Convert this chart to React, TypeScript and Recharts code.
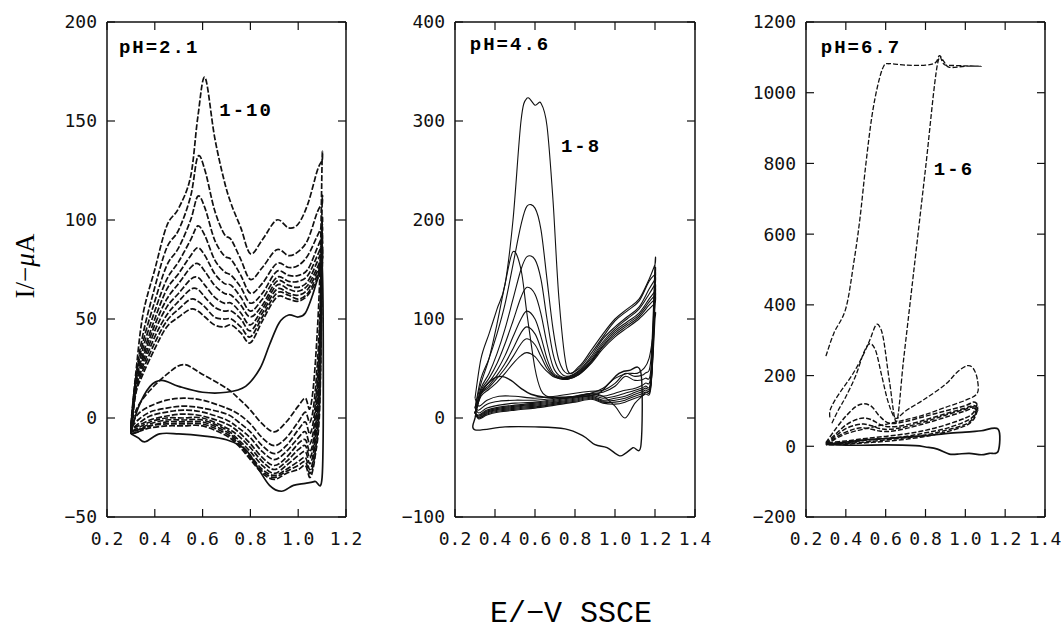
import React from "react";
import { LineChart, Line, XAxis, YAxis, ReferenceDot } from "recharts";

// ---- pH = 2.1 : forward (anodic) and return scans, cycles 1-10 ----
const p1FwdE = [0.30, 0.32, 0.35, 0.40, 0.45, 0.50, 0.55, 0.58, 0.61, 0.65, 0.69, 0.72, 0.76, 0.80, 0.85, 0.91, 0.96, 1.00, 1.04, 1.08, 1.10];
const p1RevE = [1.10, 1.09, 1.07, 1.05, 1.03, 1.00, 0.95, 0.90, 0.85, 0.80, 0.75, 0.70, 0.60, 0.52, 0.45, 0.38, 0.33, 0.30];

const p1Fwd = [
  [-3, 22, 52, 75, 97, 106, 122, 152, 172, 142, 120, 108, 96, 83, 90, 100, 96, 98, 108, 125, 130],
  [-4, 20, 42, 66, 86, 95, 112, 132, 125, 105, 93, 90, 80, 70, 76, 85, 82, 84, 90, 104, 108],
  [-5, 19, 38, 59, 77, 86, 100, 112, 106, 90, 82, 80, 72, 63, 68, 78, 76, 77, 82, 92, 97],
  [-6, 18, 35, 54, 70, 79, 90, 97, 92, 80, 74, 72, 66, 58, 63, 74, 72, 72, 75, 86, 92],
  [-6, 17, 32, 50, 65, 73, 82, 86, 82, 73, 68, 67, 61, 54, 60, 71, 69, 69, 72, 82, 88],
  [-7, 16, 30, 47, 60, 68, 76, 78, 74, 67, 63, 62, 57, 51, 57, 69, 67, 66, 69, 79, 85],
  [-7, 15, 28, 44, 56, 63, 70, 71, 67, 61, 58, 58, 53, 47, 55, 67, 65, 64, 67, 76, 82],
  [-7, 14, 26, 41, 52, 59, 65, 65, 61, 56, 54, 54, 50, 44, 53, 65, 63, 62, 65, 74, 80],
  [-8, 13, 24, 38, 49, 55, 60, 59, 56, 51, 50, 50, 46, 41, 51, 63, 62, 60, 63, 72, 78],
  [-8, 12, 22, 35, 46, 51, 55, 54, 51, 47, 46, 47, 43, 38, 49, 61, 60, 59, 62, 70, 76],
];
const p1Rev = [
  [130, 70, 25, 5, 10, 6, -2, -7, -3, 4, 10, 15, 22, 27, 22, 14, 6, -3],
  [108, 50, 12, -2, 3, -2, -10, -14, -10, -3, 2, 5, 9, 10, 9, 6, 2, -4],
  [97, 40, 5, -8, -2, -6, -14, -18, -14, -7, -2, 2, 5, 6, 5, 3, -1, -5],
  [92, 35, 0, -13, -7, -10, -17, -21, -17, -10, -5, -1, 3, 4, 3, 1, -3, -6],
  [88, 30, -5, -17, -11, -13, -20, -24, -20, -13, -7, -3, 1, 2, 1, -1, -4, -6],
  [85, 25, -8, -20, -14, -16, -22, -26, -22, -15, -9, -5, 0, 0, 0, -2, -5, -7],
  [82, 20, -12, -23, -17, -19, -24, -28, -24, -17, -11, -6, -1, -1, -1, -3, -6, -7],
  [80, 15, -15, -26, -20, -22, -26, -29, -26, -19, -12, -7, -2, -2, -2, -4, -6, -7],
  [78, 10, -18, -28, -22, -24, -27, -30, -27, -20, -13, -8, -3, -3, -3, -4, -7, -8],
  [76, 5, -20, -30, -24, -26, -28, -31, -28, -21, -14, -9, -4, -4, -4, -5, -7, -8],
];
const p1SolidE = [0.30, 0.33, 0.38, 0.43, 0.50, 0.60, 0.70, 0.78, 0.84, 0.88, 0.92, 0.96, 1.00, 1.03, 1.06, 1.08, 1.10, 1.105, 1.10, 1.07, 1.03, 0.98, 0.93, 0.88, 0.83, 0.78, 0.70, 0.60, 0.50, 0.42, 0.36, 0.33, 0.30];
const p1SolidI = [-8, 5, 16, 19, 16, 13, 13, 16, 25, 37, 48, 52, 51, 53, 62, 70, 78, 20, -30, -32, -33, -34, -37, -34, -25, -16, -11, -9, -8, -8, -12, -10, -8];

// ---- pH = 4.6 : cycles 1-8 ----
const p2FwdE = [0.30, 0.33, 0.37, 0.41, 0.45, 0.49, 0.53, 0.56, 0.60, 0.63, 0.66, 0.69, 0.72, 0.76, 0.82, 0.88, 0.94, 1.00, 1.06, 1.12, 1.17, 1.20];
const p2RevE = [1.20, 1.18, 1.15, 1.10, 1.05, 1.00, 0.94, 0.88, 0.80, 0.70, 0.60, 0.50, 0.42, 0.36, 0.32, 0.30];

const p2Fwd = [
  [20, 60, 85, 110, 135, 200, 300, 323, 316, 318, 295, 220, 120, 50, 52, 68, 85, 100, 110, 120, 140, 155],
  [10, 40, 60, 85, 115, 155, 195, 214, 212, 190, 140, 90, 58, 45, 50, 65, 82, 98, 108, 118, 138, 145],
  [10, 35, 60, 95, 135, 168, 150, 105, 50, 28, 22, 21, 20, 20, 22, 25, 30, 40, 45, 46, 60, 100],
  [5, 30, 45, 65, 90, 120, 150, 163, 160, 140, 100, 65, 48, 42, 48, 62, 80, 92, 102, 112, 130, 140],
  [5, 28, 40, 55, 75, 98, 122, 132, 125, 105, 75, 52, 43, 41, 47, 60, 77, 90, 100, 110, 125, 135],
  [5, 26, 36, 48, 63, 82, 100, 108, 100, 82, 60, 46, 42, 40, 46, 58, 75, 88, 97, 106, 120, 128],
  [5, 25, 33, 43, 55, 70, 86, 92, 85, 70, 54, 44, 41, 40, 45, 57, 73, 86, 95, 104, 117, 124],
  [5, 24, 31, 40, 50, 62, 75, 80, 74, 62, 50, 43, 40, 39, 44, 56, 72, 84, 93, 102, 114, 120],
  [5, 22, 29, 36, 45, 55, 63, 66, 62, 54, 47, 42, 40, 39, 44, 55, 70, 82, 91, 100, 110, 116],
];
const p2Rev = [
  [155, 60, 45, 42, 45, 35, 28, 27, 25, 22, 20, 22, 22, 18, 12, 20],
  [145, 50, 40, 38, 42, 32, 26, 25, 22, 20, 18, 18, 17, 14, 8, 10],
  [100, 35, 25, 15, 0, 12, 22, 25, 22, 19, 16, 15, 13, 10, 5, 10],
  [140, 45, 35, 30, 28, 25, 22, 24, 21, 18, 15, 13, 11, 8, 3, 5],
  [135, 40, 32, 28, 25, 22, 20, 23, 20, 17, 14, 12, 10, 7, 2, 5],
  [128, 38, 30, 26, 22, 20, 18, 22, 19, 16, 13, 11, 9, 6, 1, 5],
  [124, 36, 28, 24, 20, 18, 17, 21, 18, 15, 12, 10, 8, 5, 0, 5],
  [120, 34, 26, 22, 18, 16, 16, 20, 17, 14, 11, 9, 7, 4, 0, 5],
  [116, 32, 24, 20, 16, 14, 15, 19, 16, 13, 10, 8, 6, 3, -1, 5],
];
const p2FirstE = [0.30, 0.33, 0.38, 0.43, 0.48, 0.53, 0.58, 0.65, 0.75, 0.85, 0.92, 0.97, 1.02, 1.07, 1.13, 1.13, 1.09, 1.05, 1.02, 0.96, 0.90, 0.84, 0.75, 0.60, 0.45, 0.30, 0.30];
const p2FirstI = [0, 25, 38, 42, 38, 30, 24, 21, 21, 22, 25, 35, 45, 48, 45, -27, -30, -36, -38, -30, -27, -18, -11, -9, -9, -12, 0];

// ---- pH = 6.7 : cycles 1-6 ----
const p3TopE = [0.30, 0.34, 0.40, 0.44, 0.47, 0.50, 0.53, 0.56, 0.59, 0.62, 0.70, 0.80, 0.85, 0.87, 0.89, 0.92, 1.00, 1.08, 1.00, 0.90, 0.86, 0.80, 0.74, 0.69, 0.655, 0.62, 0.59, 0.57, 0.55, 0.52, 0.48, 0.43, 0.38, 0.34, 0.32, 0.32];
const p3TopI = [255, 320, 390, 520, 640, 795, 930, 1020, 1075, 1082, 1078, 1078, 1085, 1105, 1090, 1072, 1075, 1075, 1076, 1078, 1080, 785, 490, 245, 70, 180, 300, 338, 342, 300, 250, 200, 160, 125, 100, 80];
const p3SecondE = [0.33, 0.36, 0.40, 0.45, 0.49, 0.52, 0.55, 0.58, 0.61, 0.64, 0.66, 0.70, 0.80, 0.90, 0.96, 1.01, 1.04, 1.06, 1.06, 1.00, 0.90, 0.80, 0.70, 0.60, 0.50, 0.40, 0.33];
const p3SecondI = [65, 100, 140, 200, 265, 290, 270, 200, 130, 85, 80, 100, 135, 175, 210, 228, 220, 190, 150, 130, 110, 90, 75, 62, 50, 35, 15];
const p3FwdE = [0.30, 0.35, 0.40, 0.45, 0.49, 0.53, 0.57, 0.62, 0.70, 0.80, 0.90, 1.00, 1.04, 1.06];
const p3RevE = [1.06, 1.04, 1.00, 0.90, 0.80, 0.70, 0.60, 0.50, 0.40, 0.30];
const p3Fwd = [
  [10, 50, 85, 112, 120, 112, 85, 65, 70, 85, 100, 115, 125, 120],
  [8, 35, 60, 75, 80, 75, 62, 55, 60, 75, 92, 108, 115, 110],
  [6, 30, 50, 60, 63, 58, 50, 48, 55, 70, 88, 105, 112, 105],
  [4, 25, 40, 50, 52, 48, 43, 42, 50, 65, 82, 100, 108, 100],
];
const p3Rev = [
  [120, 95, 80, 60, 45, 35, 28, 22, 15, 10],
  [110, 85, 70, 50, 38, 28, 22, 17, 10, 8],
  [105, 80, 62, 45, 32, 24, 18, 12, 8, 6],
  [100, 75, 58, 40, 28, 20, 14, 10, 6, 4],
];
const p3BaseE = [0.30, 0.40, 0.50, 0.60, 0.70, 0.80, 0.90, 1.00, 1.08, 1.165, 1.165, 1.12, 1.08, 1.02, 0.96, 0.92, 0.86, 0.80, 0.75, 0.60, 0.45, 0.30];
const p3BaseI = [5, 12, 18, 22, 26, 30, 36, 40, 44, 48, -14, -20, -24, -20, -22, -22, -8, -2, 2, 4, 3, 5];

// axes
const xTicks1 = [0.2, 0.4, 0.6, 0.8, 1.0, 1.2];
const xTicks2 = [0.2, 0.4, 0.6, 0.8, 1.0, 1.2, 1.4];
const yTicks1 = [-50, 0, 50, 100, 150, 200];
const yTicks2 = [-100, 0, 100, 200, 300, 400];
const yTicks3 = [-200, 0, 200, 400, 600, 800, 1000, 1200];

const pts = (es: number[], is: number[]) => es.map((e, k) => ({ e, i: is[k] }));
const loop = (fe: number[], fi: number[], re: number[], ri: number[]) => [...pts(fe, fi), ...pts(re, ri)];

// smooth curve through the points (Catmull-Rom), works for loops where E goes back
function smooth(context: any) {
  let p: [number, number][] = [];
  return {
    areaStart() {},
    areaEnd() {},
    lineStart() { p = []; },
    point(x: number, y: number) { p.push([x, y]); },
    lineEnd() {
      if (!p.length) return;
      context.moveTo(p[0][0], p[0][1]);
      for (let k = 0; k < p.length - 1; k++) {
        const a = p[k - 1] || p[k], b = p[k], c = p[k + 1], d = p[k + 2] || c;
        context.bezierCurveTo(
          b[0] + (c[0] - a[0]) / 6, b[1] + (c[1] - a[1]) / 6,
          c[0] - (d[0] - b[0]) / 6, c[1] - (d[1] - b[1]) / 6,
          c[0], c[1],
        );
      }
    },
  };
}

const INK = "#111";
const BOX_TOP = 22;
const BOX_H = 495;
const Y_W = 70;

const NoTick = () => <g />;
const fmtY = (v: number) => (v < 0 ? `\u2212${Math.abs(v)}` : `${v}`);
const tickFont = { fontFamily: "'DejaVu Sans Mono', monospace", fontSize: 18, fill: INK };
const noteFont = { fontFamily: "'Liberation Mono', monospace", fontSize: 19, fontWeight: 700, fill: "#000", letterSpacing: 2 };
const boxLine = { stroke: INK, strokeWidth: 1.5 };
const tickLine = { stroke: INK, strokeWidth: 1.2 };

type Curve = { data: { e: number; i: number }[]; dash?: string; w?: number };
type Note = { x: number; y: number; text: string };

function Panel({ left, width, xMax, xTicks, yMin, yMax, yTicks, curves, notes }: {
  left: number; width: number; xMax: number; xTicks: number[]; yMin: number; yMax: number;
  yTicks: number[]; curves: Curve[]; notes: Note[];
}) {
  return (
    <div style={{ position: "absolute", left: left - Y_W, top: BOX_TOP - 12 }}>
      <LineChart width={Y_W + width + 16} height={12 + BOX_H + 40}
        margin={{ top: 11, right: 15, bottom: 0, left: 0 }}>
        <XAxis type="number" dataKey="e" domain={[0.2, xMax]} ticks={xTicks} interval={0}
          allowDataOverflow height={40} tickSize={-8} tickMargin={23}
          tickFormatter={(v: number) => v.toFixed(1)} tick={tickFont}
          axisLine={boxLine} tickLine={tickLine} />
        <XAxis xAxisId="top" orientation="top" type="number" dataKey="e" domain={[0.2, xMax]} ticks={xTicks}
          interval={0} allowDataOverflow height={1} tickSize={-8} tick={NoTick}
          axisLine={boxLine} tickLine={tickLine} />
        <YAxis type="number" dataKey="i" domain={[yMin, yMax]} ticks={yTicks} interval={0}
          allowDataOverflow width={Y_W} tickSize={-8} tickMargin={18} tickFormatter={fmtY} tick={tickFont}
          axisLine={boxLine} tickLine={tickLine} />
        <YAxis yAxisId="right" orientation="right" type="number" dataKey="i" domain={[yMin, yMax]} ticks={yTicks}
          interval={0} allowDataOverflow width={1} tickSize={-8} tick={NoTick}
          axisLine={boxLine} tickLine={tickLine} />
        <Line xAxisId="top" yAxisId="right" data={curves[0].data} dataKey="i" stroke="none"
          dot={false} activeDot={false} isAnimationActive={false} />
        {curves.map((c, k) => (
          <Line key={k} data={c.data} dataKey="i" type={smooth as any} stroke={INK}
            strokeWidth={c.w ?? 1.2} strokeDasharray={c.dash} dot={false} activeDot={false}
            isAnimationActive={false} />
        ))}
        {notes.map((n) => (
          <ReferenceDot key={n.text} x={n.x} y={n.y} r={0} fill="none" stroke="none"
            label={{ value: n.text, position: "center", ...noteFont }} />
        ))}
      </LineChart>
    </div>
  );
}

export default function App() {
  const curves1: Curve[] = [
    ...p1Fwd.map((f, k) => ({ data: loop(p1FwdE, f, p1RevE, p1Rev[k]), dash: "6 2", w: 1.7 })),
    { data: pts(p1SolidE, p1SolidI), w: 1.7 },
  ];
  const curves2: Curve[] = [
    ...p2Fwd.map((f, k) => ({ data: loop(p2FwdE, f, p2RevE, p2Rev[k]), w: 1.1 })),
    { data: pts(p2FirstE, p2FirstI), w: 1.4 },
  ];
  const curves3: Curve[] = [
    { data: pts(p3TopE, p3TopI), dash: "5 2", w: 1.3 },
    { data: pts(p3SecondE, p3SecondI), dash: "5 2", w: 1.3 },
    ...p3Fwd.map((f, k) => ({ data: loop(p3FwdE, f, p3RevE, p3Rev[k]), dash: "5 2", w: 1.5 })),
    { data: pts(p3BaseE, p3BaseI), w: 1.7 },
  ];

  return (
    <div style={{ position: "absolute", left: 0, top: 0, width: 1061, height: 633, background: "#fff" }}>
      <Panel left={107} width={239} xMax={1.2} xTicks={xTicks1} yMin={-50} yMax={200} yTicks={yTicks1}
        curves={curves1} notes={[{ x: 0.418, y: 188, text: "pH=2.1" }, { x: 0.782, y: 156, text: "1-10" }]} />
      <Panel left={455} width={240} xMax={1.4} xTicks={xTicks2} yMin={-100} yMax={400} yTicks={yTicks2}
        curves={curves2} notes={[{ x: 0.475, y: 379, text: "pH=4.6" }, { x: 0.83, y: 276, text: "1-8" }]} />
      <Panel left={806} width={239} xMax={1.4} xTicks={xTicks2} yMin={-200} yMax={1200} yTicks={yTicks3}
        curves={curves3} notes={[{ x: 0.476, y: 1131, text: "pH=6.7" }, { x: 0.943, y: 786, text: "1-6" }]} />
      <svg width={1061} height={633} style={{ position: "absolute", left: 0, top: 0, pointerEvents: "none" }}>
        <text x={25} y={266} transform="rotate(-90 25 266)" textAnchor="middle" dominantBaseline="central"
          fontFamily="'Liberation Serif', serif" fontSize={27} fill="#000">
          I/{"\u2212"}<tspan fontStyle="italic">{"\u03bc"}</tspan>A
        </text>
        <text x={571} y={614} textAnchor="middle" dominantBaseline="central"
          fontFamily="'Liberation Mono', monospace" fontSize={30} fill="#000">E/{"\u2212"}V SSCE</text>
      </svg>
    </div>
  );
}
